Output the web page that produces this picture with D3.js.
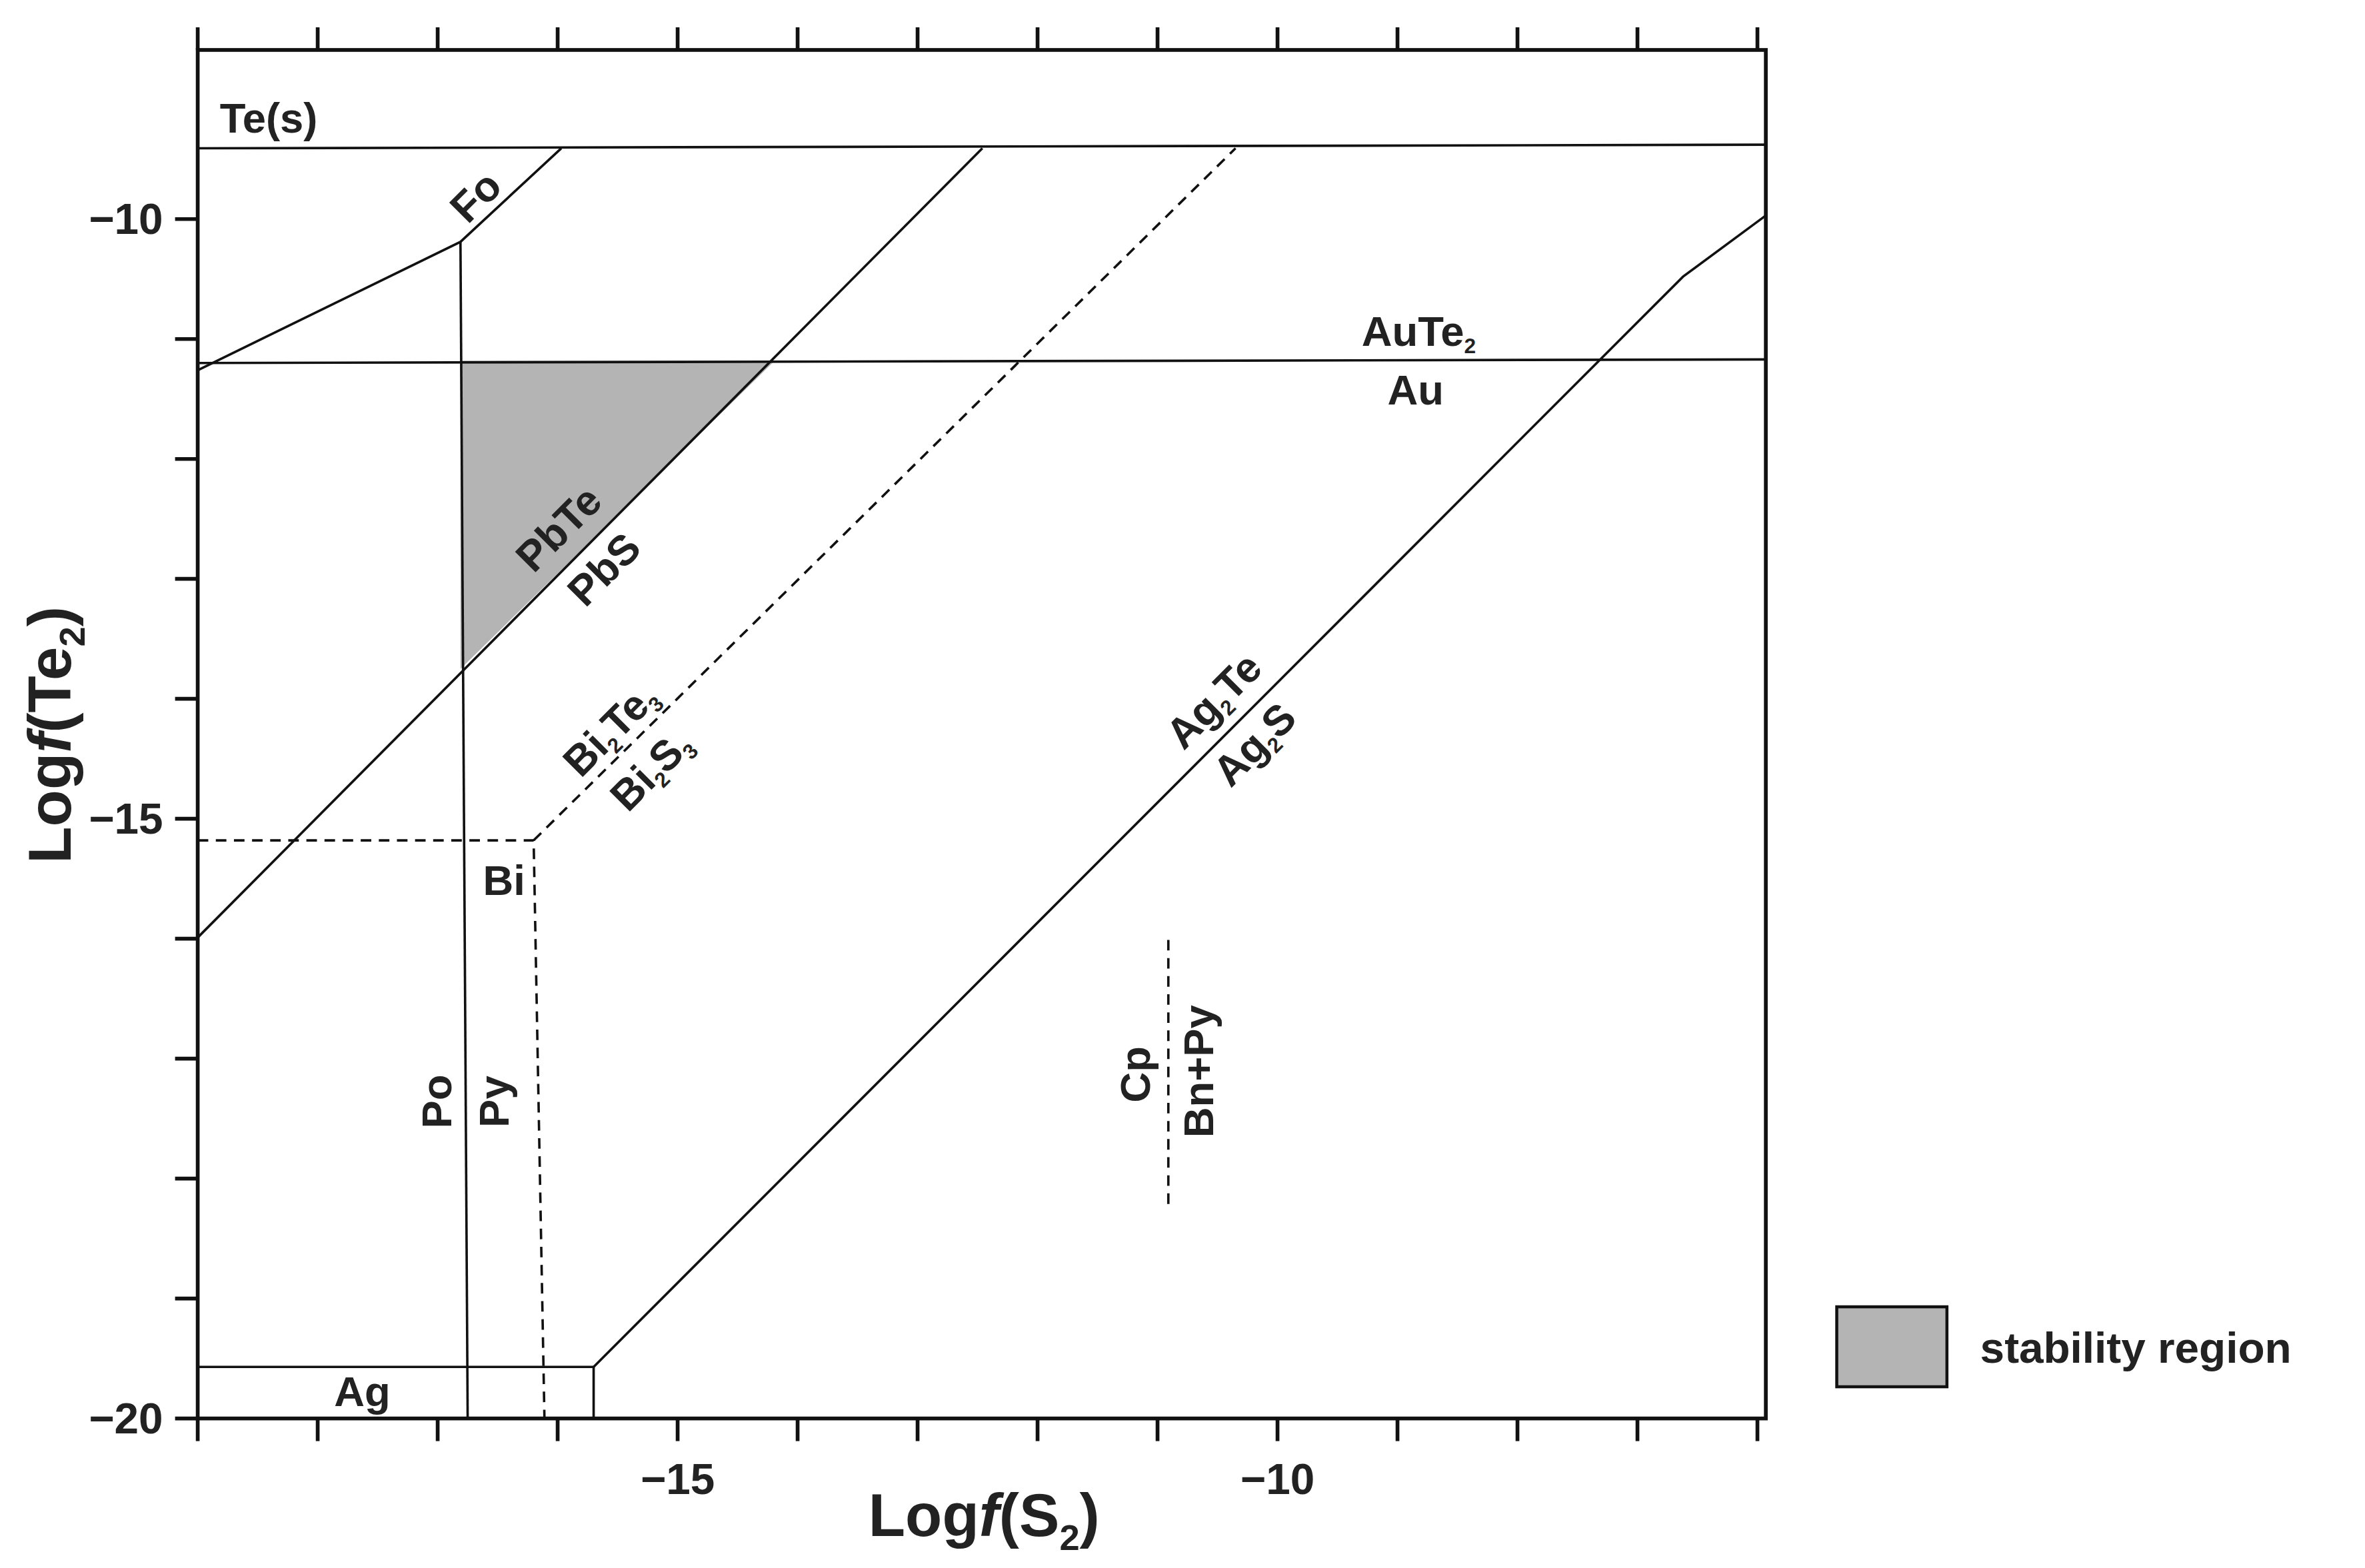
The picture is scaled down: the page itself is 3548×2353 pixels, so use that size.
<!DOCTYPE html>
<html><head><meta charset="utf-8">
<script src="https://cdn.jsdelivr.net/npm/d3@7"></script>
<style>body{margin:0;background:#fff}svg{display:block}text{font-family:"Liberation Sans",Arial,sans-serif;font-weight:bold;fill:#222}</style>
</head><body><div id="chart"></div>
<script>
// axis ranges and ticks
const xDomain = [-19, -5.93];
const yDomain = [-20, -8.59];
const xTicks = d3.range(-19, -5, 1);
const yTicks = d3.range(-20, -9, 1);
const xTickLabels = [-15, -10];
const yTickLabels = [-20, -15, -10];

// phase boundaries [logS2, logTe2]
const teSolid = [[-19, -9.41], [-5.93, -9.38]];
const auTe2 = [[-19, -11.2], [-5.93, -11.17]];
const foLine = [[-19, -11.26], [-16.81, -10.19], [-15.97, -9.41]];
const poPy = [[-16.81, -10.19], [-16.75, -20]];
const pbLine = [[-19, -15.99], [-12.46, -9.41]];
const biTeLine = [[-16.2, -15.18], [-10.35, -9.41]];
const biBox = [[-19, -15.18], [-16.2, -15.18], [-16.11, -20]];
const agLine = [[-15.7, -19.57], [-6.62, -10.48], [-5.93, -9.97]];
const agBox = [[-19, -19.57], [-15.7, -19.57], [-15.7, -20]];
const cpLine = [[-10.91, -16.01], [-10.91, -18.26]];
const stability = [[-16.81, -11.18], [-14.19, -11.18], [-16.81, -13.75]];

const W = 1567, H = 1039;
const m = {left: 131, right: 1170, top: 33, bottom: 940};
const svg = d3.select('#chart').append('svg')
  .attr('width', 3548).attr('height', 2353)
  .attr('viewBox', `0 0 ${W} ${H}`);

const x = d3.scaleLinear().domain(xDomain).range([m.left, m.right]);
const y = d3.scaleLinear().domain(yDomain).range([m.bottom, m.top]);
const line = d3.line().x(d => x(d[0])).y(d => y(d[1]));

svg.append('path').attr('d', line(stability) + 'Z')
  .attr('fill', '#b4b4b4').attr('stroke', 'none');

function draw(pts, dash) {
  svg.append('path').attr('d', line(pts)).attr('fill', 'none')
    .attr('stroke', '#111').attr('stroke-width', 1.6)
    .attr('stroke-dasharray', dash ? '7,5' : null);
}
[teSolid, auTe2, foLine, poPy, pbLine, agLine, agBox].forEach(p => draw(p, false));
[biTeLine, biBox, cpLine].forEach(p => draw(p, true));

// frame and ticks
svg.append('rect').attr('x', m.left).attr('y', m.top)
  .attr('width', m.right - m.left).attr('height', m.bottom - m.top)
  .attr('fill', 'none').attr('stroke', '#111').attr('stroke-width', 2.5);
const fmt = v => (v < 0 ? '\u2212' : '') + Math.abs(v);
const ax = svg.append('g').attr('stroke', '#111').attr('stroke-width', 2.5);
xTicks.forEach(t => {
  ax.append('line').attr('x1', x(t)).attr('x2', x(t)).attr('y1', m.bottom).attr('y2', m.bottom + 15);
  ax.append('line').attr('x1', x(t)).attr('x2', x(t)).attr('y1', m.top).attr('y2', m.top - 15);
});
yTicks.forEach(t => {
  ax.append('line').attr('x1', m.left).attr('x2', m.left - 15).attr('y1', y(t)).attr('y2', y(t));
});
xTickLabels.forEach(t => svg.append('text').attr('x', x(t)).attr('y', 990)
  .attr('text-anchor', 'middle').attr('font-size', 29).attr('font-weight', 'normal').text(fmt(t)));
yTickLabels.forEach(t => svg.append('text').attr('x', 108).attr('y', y(t) + 10)
  .attr('text-anchor', 'end').attr('font-size', 29).attr('font-weight', 'normal').text(fmt(t)));

// axis titles
function title(tx, ty, rot, inner) {
  const t = svg.append('text').attr('transform', `translate(${tx},${ty}) rotate(${rot})`)
    .attr('text-anchor', 'middle').attr('font-size', 40);
  t.append('tspan').text('Log');
  t.append('tspan').attr('font-style', 'italic').text('f');
  t.append('tspan').text('(' + inner);
  t.append('tspan').attr('font-size', 24).attr('dy', 9).text('2');
  t.append('tspan').attr('dy', -9).text(')');
}
title(652, 1018, 0, 'S');
title(47, 487, -90, 'Te');

// labels: [text parts, x, y, rotation]; parts alternate normal/subscript
const labels = [
  [['Te(s)'], 178, 88, 0], [['Fo'], 322, 137, -45],
  [['AuTe', '2'], 940, 229, 0], [['Au'], 938, 268, 0],
  [['PbTe'], 377, 357, -45], [['PbS'], 407, 384, -45],
  [['Bi', '2', 'Te', '3'], 411, 490, -45], [['Bi', '2', 'S', '3'], 438, 517, -45],
  [['Ag', '2', 'Te'], 811, 471, -45], [['Ag', '2', 'S'], 838, 500, -45],
  [['Bi'], 334, 593, 0], [['Po'], 299, 730, -90], [['Py'], 337, 730, -90],
  [['Cp'], 762, 712, -90], [['Bn+Py'], 804, 710, -90], [['Ag'], 240, 932, 0]
];
labels.forEach(([parts, lx, ly, r]) => {
  const t = svg.append('text').attr('transform', `translate(${lx},${ly}) rotate(${r})`)
    .attr('text-anchor', 'middle').attr('font-size', 28);
  parts.forEach((p, i) => {
    const sub = i % 2 === 1;
    t.append('tspan').attr('font-size', sub ? 14 : 28)
      .attr('dy', sub ? 5 : (i > 0 ? -5 : 0)).text(p);
  });
});

// legend
svg.append('rect').attr('x', 1217).attr('y', 866).attr('width', 73).attr('height', 53)
  .attr('fill', '#b4b4b4').attr('stroke', '#111').attr('stroke-width', 2);
svg.append('text').attr('x', 1312).attr('y', 903).attr('font-size', 29).text('stability region');
</script></body></html>
